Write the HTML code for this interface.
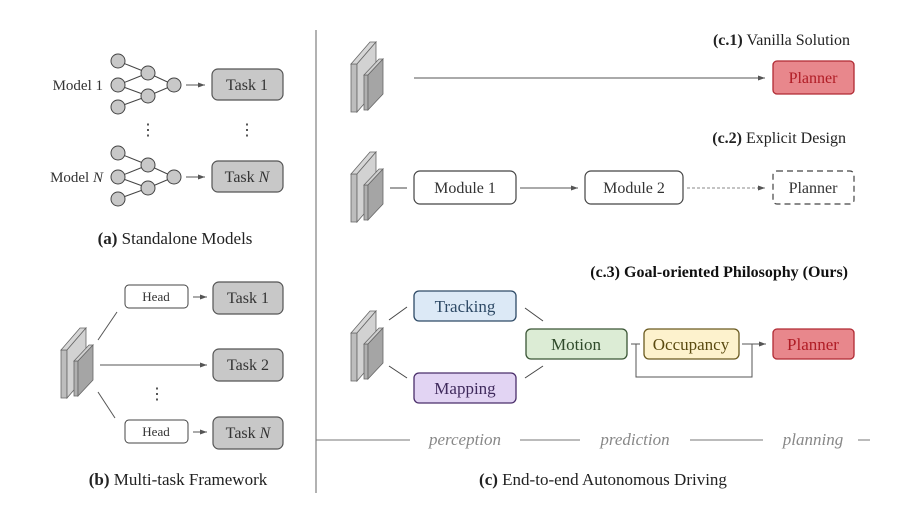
<!DOCTYPE html>
<html><head><meta charset="utf-8"><style>
html,body{margin:0;padding:0;background:#fff;}
svg, svg text, svg tspan{font-family:"Liberation Serif","DejaVu Serif",serif !important;}
</style></head><body>
<svg width="903" height="523" viewBox="0 0 903 523" xmlns="http://www.w3.org/2000/svg" font-family="Liberation Serif, serif">
<defs>
<marker id="ar" markerWidth="8" markerHeight="8" refX="7" refY="4" orient="auto" markerUnits="userSpaceOnUse"><path d="M0,1.5 L7,4 L0,6.5 z" fill="#555"/></marker>
<g id="stk" stroke="#666" stroke-width="0.8">
<polygon points="0,22 0,70 6,70 6,22" fill="#bdbdbd"/>
<polygon points="0,22 19,0 25,0 6,22" fill="#d6d6d6"/>
<polygon points="6,22 25,0 25,48 6,70" fill="#d2d2d2"/>
<polygon points="13,33 13,68 17,68 17,33" fill="#b0b0b0"/>
<polygon points="13,33 28,17 32,17 17,33" fill="#cfcfcf"/>
<polygon points="17,33 32,17 32,52 17,68" fill="#a5a5a5"/>
</g>
<g id="net" stroke="#444" stroke-width="1" fill="#c8c8c8">
<line x1="0" y1="-24" x2="30" y2="-12"/><line x1="0" y1="0" x2="30" y2="-12"/><line x1="0" y1="0" x2="30" y2="11"/><line x1="0" y1="22" x2="30" y2="11"/>
<line x1="30" y1="-12" x2="56" y2="0"/><line x1="30" y1="11" x2="56" y2="0"/>
<circle cx="0" cy="-24" r="7"/><circle cx="0" cy="0" r="7"/><circle cx="0" cy="22" r="7"/>
<circle cx="30" cy="-12" r="7"/><circle cx="30" cy="11" r="7"/><circle cx="56" cy="0" r="7"/>
</g>
</defs>

<!-- (a) -->
<text x="103" y="90" font-size="15" fill="#333" text-anchor="end">Model 1</text>
<use href="#net" x="118" y="85"/>
<line x1="186" y1="85" x2="205" y2="85" stroke="#555" marker-end="url(#ar)"/>
<rect x="212" y="69" width="71" height="31" rx="6" fill="#c8c8c8" stroke="#555" stroke-width="1.2"/>
<text x="247" y="90" font-size="16" fill="#333" text-anchor="middle">Task 1</text>
<text x="148" y="135" font-size="16" fill="#333" text-anchor="middle">⋮</text>
<text x="247" y="135" font-size="16" fill="#333" text-anchor="middle">⋮</text>
<text x="103" y="182" font-size="15" fill="#333" text-anchor="end">Model <tspan font-style="italic">N</tspan></text>
<use href="#net" x="118" y="177"/>
<line x1="186" y1="177" x2="205" y2="177" stroke="#555" marker-end="url(#ar)"/>
<rect x="212" y="161" width="71" height="31" rx="6" fill="#c8c8c8" stroke="#555" stroke-width="1.2"/>
<text x="247" y="182" font-size="16" fill="#333" text-anchor="middle">Task <tspan font-style="italic">N</tspan></text>
<text x="175" y="244" font-size="17" fill="#222" text-anchor="middle"><tspan font-weight="bold">(a)</tspan> Standalone Models</text>

<!-- (b) -->
<use href="#stk" x="61" y="328"/>
<line x1="98" y1="340" x2="117" y2="312" stroke="#555"/>
<line x1="98" y1="392" x2="115" y2="418" stroke="#555"/>
<rect x="125" y="285" width="63" height="23" rx="4" fill="#fff" stroke="#444"/>
<text x="156" y="301" font-size="13" fill="#333" text-anchor="middle">Head</text>
<line x1="193" y1="297" x2="207" y2="297" stroke="#555" marker-end="url(#ar)"/>
<rect x="213" y="282" width="70" height="32" rx="6" fill="#c8c8c8" stroke="#555" stroke-width="1.2"/>
<text x="248" y="303" font-size="16" fill="#333" text-anchor="middle">Task 1</text>
<line x1="100" y1="365" x2="207" y2="365" stroke="#555" marker-end="url(#ar)"/>
<rect x="213" y="349" width="70" height="32" rx="6" fill="#c8c8c8" stroke="#555" stroke-width="1.2"/>
<text x="248" y="370" font-size="16" fill="#333" text-anchor="middle">Task 2</text>
<text x="157" y="399" font-size="16" fill="#333" text-anchor="middle">⋮</text>
<rect x="125" y="420" width="63" height="23" rx="4" fill="#fff" stroke="#444"/>
<text x="156" y="436" font-size="13" fill="#333" text-anchor="middle">Head</text>
<line x1="193" y1="432" x2="207" y2="432" stroke="#555" marker-end="url(#ar)"/>
<rect x="213" y="417" width="70" height="32" rx="6" fill="#c8c8c8" stroke="#555" stroke-width="1.2"/>
<text x="248" y="438" font-size="16" fill="#333" text-anchor="middle">Task <tspan font-style="italic">N</tspan></text>
<text x="178" y="485" font-size="17" fill="#222" text-anchor="middle"><tspan font-weight="bold">(b)</tspan> Multi-task Framework</text>

<line x1="316" y1="30" x2="316" y2="493" stroke="#666" stroke-width="1"/>

<!-- c.1 -->
<text x="850" y="45" font-size="16" fill="#222" text-anchor="end"><tspan font-weight="bold">(c.1)</tspan> Vanilla Solution</text>
<use href="#stk" x="351" y="42"/>
<line x1="414" y1="78" x2="765" y2="78" stroke="#555" marker-end="url(#ar)"/>
<rect x="773" y="61" width="81" height="33" rx="4" fill="#e8878c" stroke="#b02a33" stroke-width="1.3"/>
<text x="813" y="83" font-size="16" fill="#b01c25" text-anchor="middle">Planner</text>

<!-- c.2 -->
<text x="846" y="143" font-size="16" fill="#222" text-anchor="end"><tspan font-weight="bold">(c.2)</tspan> Explicit Design</text>
<use href="#stk" x="351" y="152"/>
<line x1="390" y1="188" x2="407" y2="188" stroke="#444"/>
<rect x="414" y="171" width="102" height="33" rx="6" fill="#fff" stroke="#444" stroke-width="1.2"/>
<text x="465" y="193" font-size="16" fill="#333" text-anchor="middle">Module 1</text>
<line x1="520" y1="188" x2="578" y2="188" stroke="#555" marker-end="url(#ar)"/>
<rect x="585" y="171" width="98" height="33" rx="6" fill="#fff" stroke="#444" stroke-width="1.2"/>
<text x="634" y="193" font-size="16" fill="#333" text-anchor="middle">Module 2</text>
<line x1="687" y1="188" x2="765" y2="188" stroke="#888" stroke-dasharray="3,2" marker-end="url(#ar)"/>
<rect x="773" y="171" width="81" height="33" rx="4" fill="#fff" stroke="#444" stroke-width="1.2" stroke-dasharray="6,4"/>
<text x="813" y="193" font-size="16" fill="#333" text-anchor="middle">Planner</text>

<!-- c.3 -->
<text x="848" y="277" font-size="16" fill="#111" text-anchor="end" font-weight="bold">(c.3) Goal-oriented Philosophy (Ours)</text>
<use href="#stk" x="351" y="311"/>
<line x1="389" y1="320" x2="407" y2="307" stroke="#444"/>
<line x1="389" y1="366" x2="407" y2="378" stroke="#444"/>
<line x1="525" y1="308" x2="543" y2="321" stroke="#444"/>
<line x1="525" y1="378" x2="543" y2="366" stroke="#444"/>
<rect x="414" y="291" width="102" height="30" rx="5" fill="#dce9f6" stroke="#2e4a66" stroke-width="1.3"/>
<text x="465" y="312" font-size="17" fill="#2e4a66" text-anchor="middle">Tracking</text>
<rect x="414" y="373" width="102" height="30" rx="5" fill="#e2d4f3" stroke="#4a2e6a" stroke-width="1.3"/>
<text x="465" y="394" font-size="17" fill="#3f2a5c" text-anchor="middle">Mapping</text>
<rect x="526" y="329" width="101" height="30" rx="5" fill="#dcecd5" stroke="#3a5535" stroke-width="1.3"/>
<text x="576" y="350" font-size="17" fill="#2f4a2a" text-anchor="middle">Motion</text>
<rect x="644" y="329" width="95" height="30" rx="5" fill="#fdf2cd" stroke="#6a5a20" stroke-width="1.3"/>
<text x="691" y="350" font-size="17" fill="#5a4a10" text-anchor="middle">Occupancy</text>
<rect x="773" y="329" width="81" height="30" rx="4" fill="#e8878c" stroke="#b02a33" stroke-width="1.3"/>
<text x="813" y="350" font-size="17" fill="#b01c25" text-anchor="middle">Planner</text>
<polyline points="631,344 636,344 636,377 752,377 752,344" fill="none" stroke="#555"/>
<line x1="636" y1="344" x2="640" y2="344" stroke="#555"/>
<line x1="742" y1="344" x2="766" y2="344" stroke="#555" marker-end="url(#ar)"/>

<!-- bottom -->
<g stroke="#777" stroke-width="1">
<line x1="316" y1="440" x2="410" y2="440"/>
<line x1="520" y1="440" x2="580" y2="440"/>
<line x1="690" y1="440" x2="763" y2="440"/>
<line x1="858" y1="440" x2="870" y2="440"/>
</g>
<g font-size="17" font-style="italic" fill="#888" text-anchor="middle">
<text x="465" y="445">perception</text>
<text x="635" y="445">prediction</text>
<text x="813" y="445">planning</text>
</g>
<text x="603" y="485" font-size="17" fill="#222" text-anchor="middle"><tspan font-weight="bold">(c)</tspan> End-to-end Autonomous Driving</text>
</svg>
</body></html>
